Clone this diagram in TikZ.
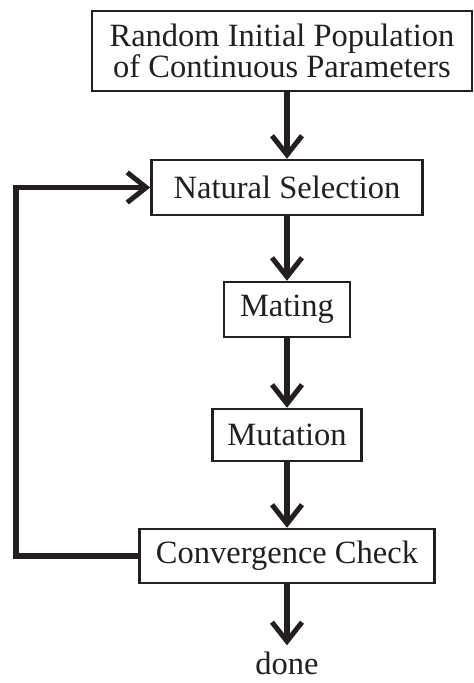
\documentclass[tikz,border=0pt]{standalone}
\usepackage{fontspec}
\setmainfont{Liberation Serif}
\usetikzlibrary{arrows.meta,positioning}
\definecolor{ink}{RGB}{35,31,32}

\begin{document}
\begin{tikzpicture}[x=1pt, y=1pt,
	flow/.style={draw=ink, line width=5.5pt, -{Straight Barb[length=19pt, width=30pt, line width=5pt]}},
	label/.style={text=ink, inner sep=0pt, font=\fontsize{32.5}{31}\selectfont},
	stage/.style={label, draw=ink, line width=2.5pt, align=center},
	node distance=65.5pt]
	\useasboundingbox (0,0) rectangle (474,-683);

	% Nodes {top, ns, mate, mut, cc, done}
	\node [stage, minimum width=380pt, minimum height=80pt] (top) at (282,-51)
		{Random Initial Population\\of Continuous Parameters};
	\node [stage, minimum width=271pt, minimum height=55pt] (ns)   at (287,-187.5) {Natural Selection};
	\node [stage, minimum width=126pt, minimum height=55pt] (mate) [below=64.5pt of ns]   {Mating};
	\node [stage, minimum width=149pt, minimum height=52pt] (mut)  [below=69.5pt of mate] {Mutation};
	\node [stage, minimum width=295pt, minimum height=54pt] (cc)   [below=of mut]         {Convergence Check};
	\node [label] (done) [below=67pt of cc] {done};
	\coordinate (loop) at (16,-370);

	% Paths
	\path [flow] (top.south -| ns.north) -- (ns.north);
	\path [flow] (ns)   -- (mate);
	\path [flow] (mate) -- (mut);
	\path [flow] (mut)  -- (cc);
	\path [flow, shorten >=6pt] (cc) -- (done);
	\path [flow] (cc.west) -| (loop) |- (ns.west);

\end{tikzpicture}
\end{document}
